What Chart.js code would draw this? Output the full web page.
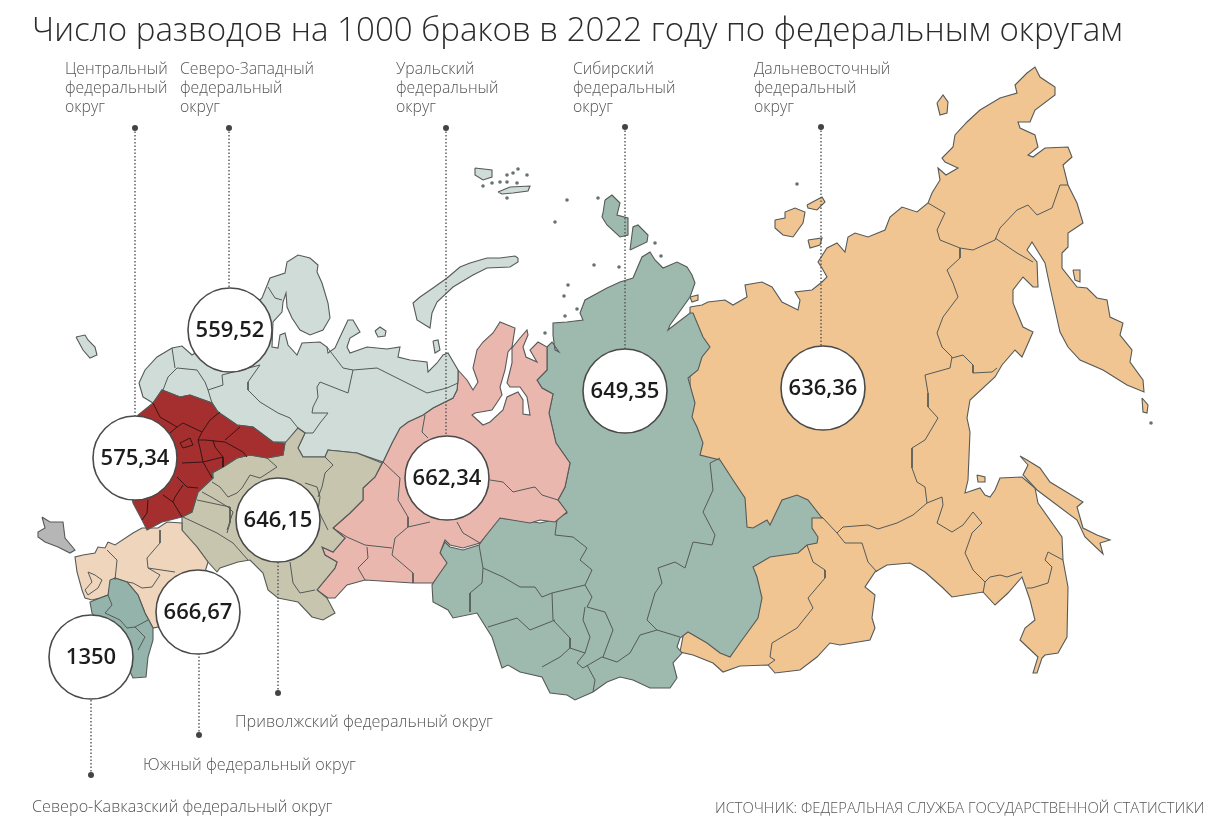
<!DOCTYPE html>
<html lang="ru">
<head>
<meta charset="utf-8">
<title>Число разводов на 1000 браков</title>
<script src="https://cdn.jsdelivr.net/npm/chart.js@4"></script>
<style>
  html, body { margin: 0; padding: 0; background: #fff; }
  #wrap { width: 1230px; height: 834px; }
</style>
</head>
<body>
<div id="wrap"><canvas id="map" width="1230" height="834"></canvas></div>
<script>
// values
const districtNames = ['Центральный', 'Северо-Западный', 'Уральский', 'Сибирский', 'Дальневосточный', 'Приволжский', 'Южный', 'Северо-Кавказский'];
const divorceValues = ['575,34', '559,52', '662,34', '649,35', '636,36', '646,15', '666,67', '1350'];
const bubbleX = [135, 230, 447, 625, 823, 278, 198, 91];
const bubbleY = [458, 330, 478, 391, 388, 520, 612, 657];
// where each dotted leader ends (x is the bubble's, y of the small dot)
const leaderX = [135, 229, 446, 625, 821, 278, 199, 91];
const leaderY = [128, 128, 128, 127, 127, 693, 735, 775];

// outlines, in picture pixels
const outlineNorthWest = [[143,397],[139,383],[145,370],[157,357],[172,348],[182,346],[192,355],[230,330],[262,298],[268,283],[270,278],[285,273],[287,262],[298,255],[310,258],[318,265],[317,272],[322,283],[328,303],[330,318],[323,330],[310,335],[300,330],[292,318],[287,307],[286,293],[283,302],[282,312],[273,322],[272,347],[278,348],[280,335],[285,333],[288,345],[297,355],[302,343],[320,342],[327,347],[328,353],[335,348],[340,337],[348,320],[353,320],[360,332],[350,338],[347,347],[350,353],[367,347],[387,349],[400,347],[398,357],[410,360],[427,362],[428,372],[437,363],[443,355],[448,353],[458,370],[458,380],[457,390],[453,398],[433,408],[423,415],[408,422],[400,428],[392,443],[383,462],[357,453],[328,450],[325,457],[303,457],[298,448],[305,433],[298,428],[287,442],[273,442],[253,427],[237,425],[218,412],[212,403],[190,395],[180,397],[162,390],[153,403],[143,397]];
const outlineNovayaZemlya = [[518,258],[515,256],[500,258],[487,258],[470,263],[460,267],[447,278],[433,288],[420,297],[413,303],[417,320],[430,328],[432,313],[437,302],[453,287],[473,275],[487,268],[510,267],[518,262],[518,258]];
const outlineKolguev = [[375,331],[380,327],[386,331],[385,336],[378,337],[375,331]];
const outlineVaygach = [[433,341],[438,340],[440,350],[435,353],[433,341]];
const outlineKaliningrad = [[76,337],[85,335],[88,340],[95,347],[97,355],[90,358],[83,350],[76,337]];
const outlineFranzJosef1 = [[475,168],[492,170],[492,177],[483,180],[475,175],[475,168]];
const outlineFranzJosef2 = [[498,192],[510,187],[530,186],[528,191],[513,193],[502,194],[498,192]];
const outlineCentral = [[153,403],[162,390],[180,397],[190,395],[212,403],[218,412],[237,425],[253,427],[273,442],[285,443],[283,455],[267,458],[250,455],[237,458],[223,467],[212,473],[213,478],[198,492],[192,512],[182,517],[162,522],[147,530],[142,520],[133,503],[125,460],[138,415],[153,403]];
const outlineVolga = [[285,443],[298,428],[305,433],[298,448],[303,457],[325,457],[328,450],[357,453],[382,463],[375,477],[363,488],[363,500],[350,513],[333,528],[345,538],[333,552],[322,547],[325,555],[337,562],[335,568],[317,590],[327,598],[335,613],[323,620],[312,617],[298,602],[278,598],[268,590],[263,573],[250,560],[238,562],[220,568],[217,572],[208,562],[197,547],[182,532],[182,517],[192,512],[198,492],[213,478],[212,473],[223,467],[237,458],[250,455],[267,458],[283,455],[285,443]];
const outlineSouth = [[108,542],[115,545],[133,533],[142,528],[158,528],[167,522],[182,523],[182,530],[197,547],[208,562],[205,572],[190,620],[153,628],[145,613],[138,595],[127,582],[115,578],[108,595],[100,598],[92,600],[85,598],[82,590],[77,572],[75,557],[83,555],[95,553],[98,547],[105,548],[108,542]];
const outlineCrimea = [[42,517],[50,522],[63,522],[65,538],[75,550],[70,553],[58,547],[45,542],[38,537],[38,532],[45,528],[42,517]];
const outlineCaucasus = [[110,580],[115,578],[127,582],[138,595],[145,613],[153,628],[153,640],[148,657],[146,677],[133,678],[120,650],[92,613],[90,602],[100,598],[108,595],[110,580]];
const outlineUral = [[458,370],[467,380],[473,390],[478,382],[473,368],[477,350],[483,342],[493,333],[500,322],[515,328],[512,347],[508,352],[505,370],[500,387],[502,395],[492,410],[475,413],[472,415],[483,425],[490,422],[503,410],[507,397],[518,392],[523,400],[523,414],[530,415],[527,397],[520,387],[510,387],[507,383],[512,363],[512,348],[520,338],[527,330],[528,335],[523,347],[526,357],[537,362],[530,350],[538,342],[547,347],[547,370],[537,380],[542,388],[553,394],[549,413],[556,443],[570,463],[565,487],[558,500],[567,512],[555,522],[540,520],[530,523],[500,518],[480,543],[463,548],[450,545],[445,540],[440,553],[447,563],[433,583],[413,583],[365,580],[347,585],[335,598],[328,598],[317,590],[335,568],[337,562],[325,555],[322,547],[333,552],[345,538],[333,528],[350,513],[363,500],[363,488],[375,477],[383,462],[392,443],[400,428],[408,422],[423,415],[433,408],[453,398],[457,390],[458,380],[458,370]];
const outlineSiberia = [[547,347],[552,342],[559,352],[555,350],[553,335],[553,323],[567,322],[583,320],[580,313],[585,300],[607,288],[620,282],[633,278],[642,257],[650,252],[655,260],[663,268],[677,262],[687,267],[692,275],[695,283],[690,297],[670,325],[668,330],[677,323],[690,313],[693,313],[703,337],[710,347],[702,357],[698,370],[688,378],[695,403],[692,417],[697,427],[703,443],[700,455],[720,460],[733,480],[745,498],[747,527],[753,528],[767,520],[770,525],[782,500],[797,495],[808,500],[822,518],[812,518],[812,528],[818,537],[817,543],[807,545],[798,553],[770,557],[753,567],[757,577],[762,598],[758,618],[742,640],[730,657],[720,653],[707,643],[688,632],[680,638],[677,647],[682,653],[673,663],[677,678],[670,688],[650,688],[633,680],[620,677],[607,682],[593,692],[575,700],[567,695],[550,693],[542,677],[520,672],[508,665],[502,668],[492,637],[477,613],[453,618],[448,610],[433,602],[432,585],[445,563],[440,552],[445,542],[450,547],[463,550],[479,545],[497,518],[520,520],[540,523],[553,520],[567,513],[558,500],[565,487],[570,463],[556,443],[549,413],[553,394],[542,388],[537,380],[547,370],[547,347]];
const outlineSevZemlya1 = [[605,200],[612,195],[620,203],[617,215],[628,218],[628,235],[620,237],[607,225],[602,217],[603,213],[605,200]];
const outlineSevZemlya2 = [[630,250],[633,227],[638,225],[648,235],[647,242],[630,250]];
const outlineFarEast = [[690,307],[702,305],[708,302],[725,300],[733,305],[747,297],[745,285],[762,282],[772,287],[782,302],[798,310],[800,300],[795,292],[812,290],[822,282],[827,277],[822,268],[818,262],[827,248],[837,243],[845,252],[848,237],[855,233],[868,237],[885,230],[890,217],[902,207],[917,212],[928,203],[932,193],[940,180],[938,168],[946,175],[958,168],[945,162],[942,158],[953,147],[955,135],[967,122],[980,110],[1000,98],[1017,93],[1015,85],[1027,73],[1035,67],[1040,77],[1055,87],[1055,95],[1035,110],[1030,122],[1018,122],[1020,128],[1035,135],[1038,147],[1028,155],[1033,157],[1045,148],[1068,147],[1072,157],[1063,165],[1068,185],[1077,203],[1083,223],[1068,233],[1068,247],[1062,253],[1062,268],[1077,287],[1087,288],[1097,298],[1107,300],[1110,317],[1123,323],[1120,335],[1132,350],[1130,362],[1143,380],[1144,392],[1127,385],[1103,370],[1080,360],[1068,347],[1060,332],[1050,287],[1045,263],[1032,242],[1027,250],[1037,262],[1038,287],[1033,287],[1023,277],[1013,290],[1013,303],[1023,327],[1033,332],[1022,357],[1015,350],[1002,365],[995,377],[970,400],[967,418],[970,432],[968,480],[965,493],[980,488],[985,495],[990,497],[995,490],[1000,478],[1022,477],[1035,488],[1038,503],[1062,537],[1063,560],[1068,587],[1067,637],[1058,653],[1045,655],[1042,658],[1037,673],[1033,673],[1038,657],[1020,640],[1025,628],[1035,620],[1030,600],[1022,577],[1008,593],[995,605],[983,592],[952,597],[943,588],[925,572],[910,563],[887,565],[875,572],[865,587],[875,595],[872,618],[875,628],[870,640],[840,645],[830,643],[817,657],[800,670],[775,673],[768,665],[740,666],[723,672],[713,663],[693,655],[680,652],[690,600],[690,307]];
const outlineSakhalin = [[1020,456],[1027,460],[1040,468],[1050,482],[1083,502],[1077,507],[1083,528],[1097,535],[1110,540],[1100,543],[1103,554],[1085,537],[1077,520],[1037,490],[1023,475],[1028,465],[1020,456]];
const outlineNewSiberia1 = [[775,220],[785,218],[785,212],[795,208],[805,212],[803,223],[793,237],[783,235],[775,228],[775,220]];
const outlineNewSiberia2 = [[807,205],[822,197],[825,202],[817,210],[808,208],[807,205]];
const outlineNewSiberia3 = [[808,240],[822,238],[820,245],[810,248],[808,240]];
const outlineWrangel = [[937,103],[943,95],[948,102],[947,113],[940,115],[937,103]];
const outlineKaraginsky = [[1073,270],[1080,270],[1080,282],[1075,280],[1073,270]];
const outlineKuril = [[1142,398],[1148,405],[1147,413],[1143,412],[1142,398]];
const outlineShantar = [[977,475],[985,477],[985,482],[978,482],[977,475]];
const outlineTaimyrIsle = [[690,297],[698,295],[698,300],[692,302],[690,297]];
const dotsX = [483,492,500,507,513,518,527,507,517,507,567,555,598,594,619,568,564,565,577,545,661,655,797,1151];
const dotsY = [186,183,182,175,173,169,175,182,183,198,200,222,198,265,267,285,296,316,309,333,256,243,184,423];

// borders between regions inside a district
const bordersNorthWest = [
  [[268,287],[275,298],[282,300]],
  [[163,390],[168,377],[177,368],[197,370],[205,382],[208,390],[212,403]],
  [[172,348],[175,368]],
  [[208,390],[223,385],[222,375],[260,365]],
  [[260,365],[248,382],[248,390],[260,402],[278,413],[290,418],[298,428]],
  [[327,347],[343,368],[353,370],[348,393],[320,382],[317,387],[318,397],[313,407],[312,413],[328,413],[320,423],[313,433],[305,433]],
  [[353,370],[377,368],[397,378],[427,393],[447,388],[458,383]]
];
const bordersCentral = [
  [[153,403],[160,417],[177,427],[170,433]],
  [[177,427],[183,423],[202,432],[210,420],[220,412]],
  [[202,432],[198,440],[205,440],[225,442],[243,452],[247,457]],
  [[225,440],[240,427]],
  [[198,440],[200,448],[203,462],[223,457],[223,467]],
  [[213,440],[215,447],[223,457]],
  [[182,463],[203,462],[212,478]],
  [[177,477],[187,487],[198,488]],
  [[183,485],[175,497],[173,502],[182,517]],
  [[163,495],[173,502]],
  [[148,500],[147,513],[142,520]],
  [[180,443],[190,438],[193,445],[183,448],[180,443]]
];
const bordersVolga = [
  [[212,482],[220,487],[228,497],[237,493],[242,488],[250,475],[260,478],[277,467],[267,458]],
  [[202,492],[213,498],[228,507],[233,512],[227,530]],
  [[325,457],[333,465],[325,473],[322,487],[318,497]],
  [[305,483],[317,487],[320,497],[318,510],[322,518],[328,530]],
  [[183,517],[217,533],[233,543],[248,560]],
  [[197,500],[230,507],[230,523],[227,533]],
  [[290,562],[293,583],[300,593],[315,590]]
];
const bordersSouth = [
  [[160,530],[160,543],[147,558],[148,568],[160,575],[152,587],[142,588],[133,583],[127,582]],
  [[115,580],[117,560],[107,550]],
  [[148,568],[175,572]],
  [[88,572],[95,575],[102,580],[98,588],[88,595],[85,590],[92,582],[88,572]]
];
const bordersCaucasus = [
  [[108,595],[112,605],[105,613],[120,620],[127,628],[135,627]],
  [[135,627],[148,620]],
  [[135,627],[145,637],[138,650]]
];
const bordersUral = [
  [[425,415],[422,432],[428,438]],
  [[383,462],[400,478],[398,500],[408,517],[408,527],[430,522]],
  [[408,527],[395,538],[392,555],[413,573],[413,583]],
  [[457,522],[463,533],[480,543]],
  [[490,480],[503,482],[513,492],[530,488],[535,487],[542,495],[558,500]],
  [[333,528],[347,537],[365,545],[392,548]],
  [[367,547],[368,558],[358,568],[365,580]]
];
const bordersSiberia = [
  [[479,545],[483,568],[503,577],[520,587],[535,587],[542,597],[552,593],[585,585]],
  [[557,520],[555,535],[573,537],[587,548],[580,560],[592,570],[585,585],[592,597],[587,607],[605,612],[613,630],[603,657]],
  [[483,568],[482,583],[470,593],[470,612]],
  [[552,593],[553,620],[570,638],[570,648],[585,653]],
  [[488,627],[517,618],[530,630],[555,620]],
  [[570,648],[560,657],[542,667]],
  [[585,607],[583,620],[590,637],[585,653],[577,663],[583,668],[602,657],[617,662],[630,653],[640,635],[657,630],[680,637]],
  [[587,665],[595,680],[593,692]],
  [[657,630],[647,620],[655,593],[662,583],[658,568],[675,562],[685,568],[693,542],[712,545],[715,535],[703,512],[713,490],[710,463],[720,458]]
];
const bordersFarEast = [
  [[928,203],[945,213],[937,230],[940,240],[960,248],[973,250],[995,240],[1000,228],[1017,210],[1028,205],[1037,215],[1052,208],[1060,185],[1068,185]],
  [[995,238],[1017,253],[1033,262]],
  [[960,248],[960,258],[947,270],[953,283],[958,297],[943,317],[937,333],[942,347],[952,357],[950,368]],
  [[952,358],[963,355],[973,365],[973,373],[992,372],[997,368]],
  [[950,368],[925,375],[928,393],[928,407],[938,418],[925,440],[912,448],[912,468],[917,482],[925,487],[927,503]],
  [[927,503],[913,515],[897,523],[878,529],[868,525],[843,527],[837,533]],
  [[822,517],[837,533],[845,543],[862,543],[868,562],[877,572]],
  [[927,503],[942,497],[943,505],[937,523],[952,532],[963,525],[973,512],[982,523],[972,533],[965,553],[973,570],[985,582],[983,593]],
  [[985,582],[990,577],[1000,575],[1007,577],[1022,572]],
  [[1027,588],[1032,588],[1048,583],[1052,567],[1045,560],[1048,552],[1063,560]],
  [[807,545],[813,562],[825,570],[825,578],[808,598],[813,608],[797,628],[772,643],[770,657],[775,660],[768,665]]
];

const LINE = '#555a58';
const pts = a => a.map(p => ({x: p[0], y: p[1]}));

const datasets = [];
function shape(outline, color) {
  datasets.push({data: pts(outline), showLine: true, fill: 'shape', backgroundColor: color, borderColor: LINE, borderWidth: 1.1, pointRadius: 0, tension: 0});
}
function borders(list) {
  list.forEach(b => datasets.push({data: pts(b), showLine: true, fill: false, borderColor: LINE, borderWidth: 1, pointRadius: 0, tension: 0}));
}

// back to front, later ones cover the earlier
const NW = '#cfdcd8', CEN = '#a52e2e', VOL = '#c7c5ae', SOU = '#f0d5bd', CAU = '#94b3ab', URA = '#eab7ae', SIB = '#9eb9ad', FE = '#f0c592';
[outlineFarEast, outlineSakhalin, outlineNewSiberia1, outlineNewSiberia2, outlineNewSiberia3, outlineWrangel, outlineKaraginsky, outlineKuril, outlineShantar, outlineTaimyrIsle].forEach(o => shape(o, FE));
[outlineSiberia, outlineSevZemlya1, outlineSevZemlya2].forEach(o => shape(o, SIB));
shape(outlineUral, URA);
[outlineNorthWest, outlineNovayaZemlya, outlineKolguev, outlineVaygach, outlineKaliningrad, outlineFranzJosef1, outlineFranzJosef2].forEach(o => shape(o, NW));
shape(outlineVolga, VOL);
shape(outlineSouth, SOU);
shape(outlineCrimea, '#b6b6b6');
shape(outlineCaucasus, CAU);
shape(outlineCentral, CEN);
[bordersNorthWest, bordersVolga, bordersSouth, bordersCaucasus, bordersUral, bordersSiberia, bordersFarEast].forEach(borders);
datasets.push(...bordersCentral.map(b => ({data: pts(b), showLine: true, fill: false, borderColor: '#3a1414', borderWidth: 1, pointRadius: 0, tension: 0})));

datasets.push({data: dotsX.map((x, i) => ({x: x, y: dotsY[i]})), showLine: false, pointRadius: 1.8, backgroundColor: '#66736f', borderWidth: 0});

// dotted leaders with the small dot at the free end
bubbleX.forEach((x, i) => {
  datasets.push({data: [{x: leaderX[i], y: leaderY[i]}, {x: leaderX[i], y: bubbleY[i]}], showLine: true, fill: false, borderColor: '#555', borderWidth: 1.4, borderDash: [1.5, 2], pointRadius: [3, 0], pointBackgroundColor: '#444', pointBorderWidth: 0, tension: 0});
});

// the value bubbles, last so they sit on top
datasets.push({data: bubbleX.map((x, i) => ({x: x, y: bubbleY[i]})), showLine: false, pointRadius: 42, backgroundColor: '#fff', borderColor: '#4a4a4a', borderWidth: 1.6});
datasets.forEach((d, i) => { d.order = datasets.length - i; d.clip = false; });

// first five names stack over three lines above the map, the other three sit in one line below it
const topLabelX = [65, 180, 396, 573, 754];
const bottomLabelX = [235, 143, 32];
const bottomLabelY = [727, 770, 812];

const textPlugin = {
  id: 'mapText',
  afterDatasetsDraw(chart) {
    const ctx = chart.ctx;
    ctx.save();
    ctx.textBaseline = 'alphabetic';
    ctx.textAlign = 'left';
    ctx.fillStyle = '#2b2b2b';
    ctx.font = '300 33.1px "Open Sans"';
    ctx.fillText('Число разводов на 1000 браков в 2022 году по федеральным округам', 32, 41);
    ctx.fillStyle = '#555';
    ctx.font = '300 15.8px "Open Sans"';
    topLabelX.forEach((x, i) => {
      ctx.fillText(districtNames[i], x, 74);
      ctx.fillText('федеральный', x, 93);
      ctx.fillText('округ', x, 112);
    });
    ctx.font = '300 16.2px "Open Sans"';
    bottomLabelX.forEach((x, i) => ctx.fillText(districtNames[i + 5] + ' федеральный округ', x, bottomLabelY[i]));
    ctx.font = '300 14.8px "Open Sans"';
    ctx.fillText('ИСТОЧНИК: ФЕДЕРАЛЬНАЯ СЛУЖБА ГОСУДАРСТВЕННОЙ СТАТИСТИКИ', 715, 813);
    // values centred on their bubbles through the scales
    const xs = chart.scales.x, ys = chart.scales.y;
    ctx.fillStyle = '#1c1c1c';
    ctx.font = '600 22px "Open Sans"';
    ctx.textAlign = 'center';
    ctx.textBaseline = 'middle';
    divorceValues.forEach((v, i) => ctx.fillText(v, xs.getPixelForValue(bubbleX[i]), ys.getPixelForValue(bubbleY[i]) + 1));
    ctx.restore();
  }
};

new Chart(document.getElementById('map'), {
  type: 'scatter',
  data: {datasets: datasets},
  options: {
    responsive: false,
    animation: false,
    events: [],
    layout: {padding: 0, autoPadding: false},
    plugins: {legend: {display: false}, tooltip: {enabled: false}, title: {display: false}},
    scales: {
      x: {type: 'linear', min: 0, max: 1230, display: false},
      y: {type: 'linear', min: 0, max: 834, reverse: true, display: false}
    }
  },
  plugins: [textPlugin]
});
</script>
</body>
</html>
